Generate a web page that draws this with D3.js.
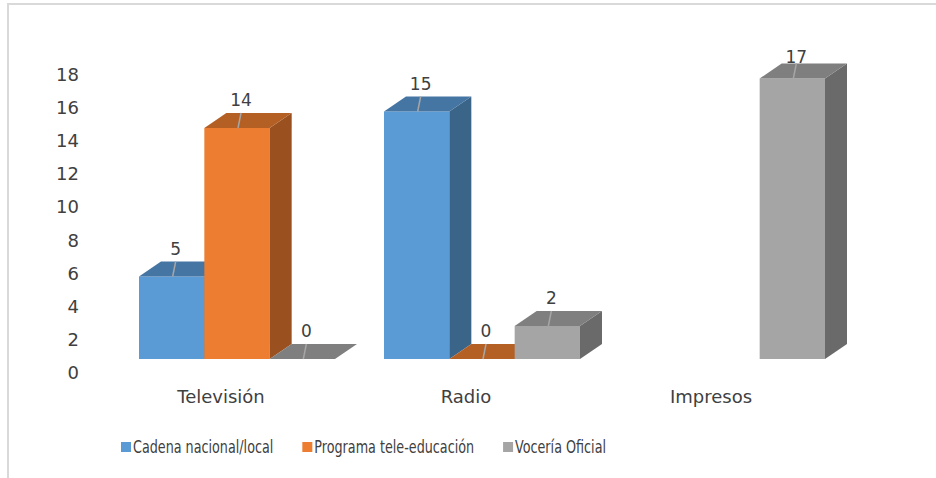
<!DOCTYPE html>
<html>
<head>
<meta charset="utf-8">
<script src="https://cdn.jsdelivr.net/npm/d3@7"></script>
<style>
  body { margin: 0; background: #fff; }
  svg { display: block; }
  .tick text { fill: #404040; }
</style>
</head>
<body>
<div id="chart"></div>
<script>
// data
var categories = ["Televisión", "Radio", "Impresos"];
var seriesNames = ["Cadena nacional/local", "Programa tele-educación", "Vocería Oficial"];
var cadena = [5, 15, null];
var programa = [14, 0, null];
var voceria = [0, 2, 17];
var yTicks = [0, 2, 4, 6, 8, 10, 12, 14, 16, 18];

var colors = [
  { front: "#5b9bd5", top: "#4575a3", side: "#3b6489" },
  { front: "#ed7d31", top: "#b45f24", side: "#9a501f" },
  { front: "#a5a5a5", top: "#7f7f7f", side: "#6a6a6a" }
];

var svgWidth = 936, svgHeight = 478;
var depth = { dx: 22, dy: -15 };

var svg = d3.select("#chart").append("svg")
  .attr("width", svgWidth)
  .attr("height", svgHeight);

// chart frame (cropped on top and right)
svg.append("path")
  .attr("d", "M8,478 V4 H936")
  .attr("fill", "none")
  .attr("stroke", "#d9d9d9")
  .attr("stroke-width", 2);

var x0 = d3.scaleBand()
  .domain(categories)
  .range([114.5, 849.5])
  .paddingInner(0.2)
  .paddingOuter(0.1);

var x1 = d3.scaleBand()
  .domain(d3.range(seriesNames.length))
  .range([0, x0.bandwidth()]);

// bars sit on the floor front edge
var yBar = d3.scaleLinear().domain([0, 18]).range([359, 62]);
// axis labels of the back wall
var yAxisScale = d3.scaleLinear().domain([0, 18]).range([372, 74]);

var leftAxis = d3.axisLeft(yAxisScale).tickValues(yTicks).tickSize(0).tickPadding(0);
var yAxis = svg.append("g")
  .attr("transform", "translate(79,0)")
  .call(leftAxis);
yAxis.select(".domain").remove();
yAxis.selectAll("text")
  .attr("font-family", "DejaVu Sans, sans-serif")
  .attr("font-size", 18)
  .attr("dy", "0.36em");

// category labels
svg.append("g").selectAll("text")
  .data(categories)
  .enter()
  .append("text")
  .attr("x", d => x0(d) + x0.bandwidth() / 2 - 16)
  .attr("y", 403)
  .attr("text-anchor", "middle")
  .attr("font-family", "DejaVu Sans, sans-serif")
  .attr("font-size", 18)
  .attr("fill", "#404040")
  .text(d => d);

var allSeries = [cadena, programa, voceria];
var bars = [];
categories.forEach(function(cat, ci) {
  allSeries.forEach(function(vals, si) {
    if (vals[ci] !== null) bars.push({ cat: cat, s: si, v: vals[ci] });
  });
});

var barGroup = svg.append("g");
bars.forEach(function(b) {
  var x = x0(b.cat) + x1(b.s);
  var w = x1.bandwidth();
  var yv = yBar(b.v);
  var y0 = yBar(0);
  var c = colors[b.s];
  var g = barGroup.append("g");
  if (b.v > 0) {
    g.append("rect")
      .attr("x", x).attr("y", yv)
      .attr("width", w).attr("height", y0 - yv)
      .attr("fill", c.front);
    g.append("polygon")
      .attr("points", [[x + w, yv], [x + w + depth.dx, yv + depth.dy], [x + w + depth.dx, y0 + depth.dy], [x + w, y0]].join(" "))
      .attr("fill", c.side);
  }
  g.append("polygon")
    .attr("points", [[x, yv], [x + depth.dx, yv + depth.dy], [x + w + depth.dx, yv + depth.dy], [x + w, yv]].join(" "))
    .attr("fill", c.top);

  // data label with leader
  var cx = x + w / 2;
  var lx = cx + 4;
  var backTop = yv + depth.dy;
  var ly = Math.max(backTop - 13, 57);
  if (backTop - ly > 6) {
    g.append("line")
      .attr("x1", lx).attr("y1", backTop)
      .attr("x2", cx + 1).attr("y2", yv)
      .attr("stroke", "#a6a6a6")
      .attr("stroke-width", 1.5);
  }
  g.append("text")
    .attr("x", lx)
    .attr("y", ly)
    .attr("dy", "0.36em")
    .attr("text-anchor", "middle")
    .attr("font-family", "DejaVu Sans, sans-serif")
    .attr("font-size", 17)
    .attr("fill", "#404040")
    .text(b.v);
});

// legend (narrow font squeezed horizontally)
var legend = svg.append("g").attr("transform", "translate(121,447)");
var lx = 0;
seriesNames.forEach(function(name, i) {
  var item = legend.append("g").attr("transform", `translate(${lx},0)`);
  item.append("rect")
    .attr("x", 0).attr("y", -5)
    .attr("width", 10).attr("height", 10)
    .attr("fill", colors[i].front);
  var t = item.append("text")
    .attr("x", 12)
    .attr("y", 0)
    .attr("dy", "0.36em")
    .attr("font-family", "DejaVu Sans Condensed, sans-serif")
    .attr("font-size", 17.5)
    .attr("fill", "#404040")
    .text(name);
  var len = t.node().getComputedTextLength() * 0.81;
  t.attr("textLength", len).attr("lengthAdjust", "spacingAndGlyphs");
  lx += 12 + len + 29;
});
</script>
</body>
</html>
